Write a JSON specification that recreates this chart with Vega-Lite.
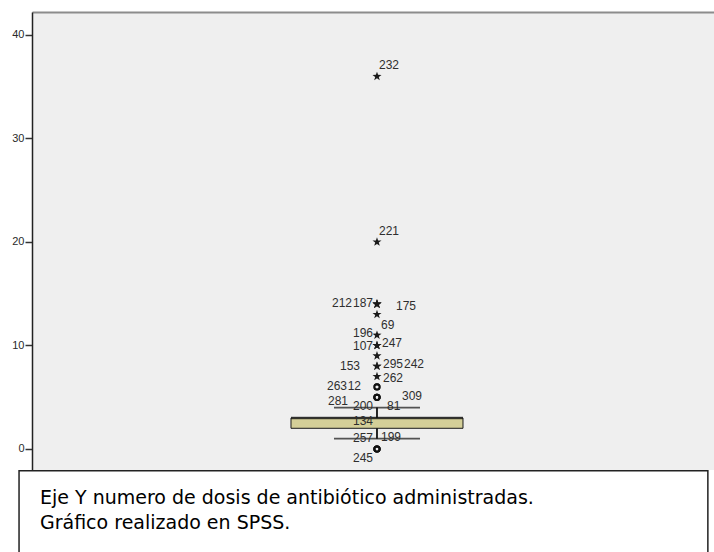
{
  "$schema": "https://vega.github.io/schema/vega-lite/v6.json",
  "autosize": "none",
  "width": 682,
  "height": 458,
  "padding": {"left": 32, "top": 12, "right": 0, "bottom": 82},
  "background": "white",
  "config": {
    "font": "Liberation Sans",
    "view": {"fill": "#efefef", "stroke": null}
  },
  "datasets": {
    "resumen": [
      {"grupo": "dosis", "minimo": 1, "q1": 2, "mediana": 3, "q3": 3, "maximo": 4}
    ],
    "atipicos": [
      {"grupo": "dosis", "caso": 232, "valor": 36, "tipo": "extremo"},
      {"grupo": "dosis", "caso": 221, "valor": 20, "tipo": "extremo"},
      {"grupo": "dosis", "caso": 212, "valor": 14, "tipo": "extremo"},
      {"grupo": "dosis", "caso": 187, "valor": 14, "tipo": "extremo"},
      {"grupo": "dosis", "caso": 175, "valor": 14, "tipo": "extremo"},
      {"grupo": "dosis", "caso": 69, "valor": 13, "tipo": "extremo"},
      {"grupo": "dosis", "caso": 196, "valor": 11, "tipo": "extremo"},
      {"grupo": "dosis", "caso": 107, "valor": 10, "tipo": "extremo"},
      {"grupo": "dosis", "caso": 247, "valor": 10, "tipo": "extremo"},
      {"grupo": "dosis", "caso": 295, "valor": 9, "tipo": "extremo"},
      {"grupo": "dosis", "caso": 242, "valor": 8, "tipo": "extremo"},
      {"grupo": "dosis", "caso": 153, "valor": 8, "tipo": "extremo"},
      {"grupo": "dosis", "caso": 262, "valor": 7, "tipo": "extremo"},
      {"grupo": "dosis", "caso": 263, "valor": 6, "tipo": "atipico"},
      {"grupo": "dosis", "caso": 12, "valor": 6, "tipo": "atipico"},
      {"grupo": "dosis", "caso": 309, "valor": 5, "tipo": "atipico"},
      {"grupo": "dosis", "caso": 281, "valor": 5, "tipo": "atipico"},
      {"grupo": "dosis", "caso": 200, "valor": 5, "tipo": "atipico"},
      {"grupo": "dosis", "caso": 81, "valor": 5, "tipo": "atipico"},
      {"grupo": "dosis", "caso": 134, "valor": 0, "tipo": "atipico"},
      {"grupo": "dosis", "caso": 257, "valor": 0, "tipo": "atipico"},
      {"grupo": "dosis", "caso": 199, "valor": 0, "tipo": "atipico"},
      {"grupo": "dosis", "caso": 245, "valor": 0, "tipo": "atipico"}
    ],
    "nota": [
      {"texto": ["Eje Y numero de dosis de antibiótico administradas.", "Gráfico realizado en SPSS."]}
    ]
  },
  "layer": [
    {
      "encoding": {
        "x": {
          "field": "grupo",
          "type": "nominal",
          "scale": {"type": "band", "paddingInner": 0, "paddingOuter": 0.5, "align": 0.5117},
          "axis": {"orient": "top", "labels": false, "ticks": false, "title": null, "domainColor": "#8c8c8c", "domainWidth": 2}
        }
      },
      "layer": [
        {
          "data": {"name": "resumen"},
          "layer": [
            {
              "mark": {"type": "bar", "fill": "#d4cf98", "stroke": "#1a1a1a", "strokeWidth": 1, "width": 172},
              "encoding": {
                "y": {
                  "field": "q1",
                  "type": "quantitative",
                  "scale": {"domain": [-2.03, 42.22], "nice": false, "zero": false},
                  "axis": {
                    "values": [0, 10, 20, 30, 40],
                    "title": null,
                    "grid": false,
                    "tickSize": 7,
                    "tickWidth": 1.5,
                    "tickColor": "#333333",
                    "domainColor": "#222222",
                    "domainWidth": 1.5,
                    "labelFontSize": 11,
                    "labelColor": "#2a2a2a",
                    "labelPadding": 1
                  }
                },
                "y2": {"field": "q3"}
              }
            },
            {
              "mark": {"type": "tick", "color": "#111111", "size": 172, "thickness": 2.5},
              "encoding": {"y": {"field": "mediana", "type": "quantitative"}}
            },
            {
              "mark": {"type": "rule", "color": "#111111", "strokeWidth": 1.8},
              "encoding": {"y": {"field": "q3", "type": "quantitative"}, "y2": {"field": "maximo"}}
            },
            {
              "mark": {"type": "rule", "color": "#111111", "strokeWidth": 1.8},
              "encoding": {"y": {"field": "minimo", "type": "quantitative"}, "y2": {"field": "q1"}}
            },
            {
              "mark": {"type": "tick", "color": "#111111", "size": 86, "thickness": 1.8},
              "encoding": {"y": {"field": "maximo", "type": "quantitative"}}
            },
            {
              "mark": {"type": "tick", "color": "#111111", "size": 86, "thickness": 1.8},
              "encoding": {"y": {"field": "minimo", "type": "quantitative"}}
            }
          ]
        },
        {
          "data": {"name": "atipicos"},
          "encoding": {"y": {"field": "valor", "type": "quantitative"}},
          "layer": [
            {
              "transform": [{"filter": "datum.tipo == 'atipico'"}],
              "mark": {"type": "point", "shape": "circle", "filled": false, "stroke": "#111111", "strokeWidth": 1.8, "size": 28, "opacity": 1}
            },
            {
              "transform": [{"filter": "datum.tipo == 'extremo'"}],
              "mark": {
                "type": "point",
                "shape": "M0,-1L0.235,-0.324L0.951,-0.309L0.38,0.124L0.588,0.809L0,0.4L-0.588,0.809L-0.38,0.124L-0.951,-0.309L-0.235,-0.324Z",
                "filled": true,
                "fill": "#1a1a1a",
                "strokeWidth": 0,
                "size": 90,
                "opacity": 1
              }
            },
            {
              "transform": [{"filter": {"field": "caso", "oneOf": [232, 221]}}],
              "mark": {"type": "text", "align": "left", "baseline": "middle", "dx": 2, "dy": -11, "fontSize": 12, "color": "#2e2e2e"},
              "encoding": {"text": {"field": "caso", "type": "nominal"}}
            },
            {
              "transform": [{"filter": {"field": "caso", "oneOf": [175]}}],
              "mark": {"type": "text", "align": "left", "baseline": "middle", "dx": 19, "dy": 2, "fontSize": 12, "color": "#2e2e2e"},
              "encoding": {"text": {"field": "caso", "type": "nominal"}}
            },
            {
              "transform": [{"filter": {"field": "caso", "oneOf": [69]}}],
              "mark": {"type": "text", "align": "left", "baseline": "middle", "dx": 4, "dy": 10.5, "fontSize": 12, "color": "#2e2e2e"},
              "encoding": {"text": {"field": "caso", "type": "nominal"}}
            },
            {
              "transform": [{"filter": {"field": "caso", "oneOf": [247]}}],
              "mark": {"type": "text", "align": "left", "baseline": "middle", "dx": 5, "dy": -2, "fontSize": 12, "color": "#2e2e2e"},
              "encoding": {"text": {"field": "caso", "type": "nominal"}}
            },
            {
              "transform": [{"filter": {"field": "caso", "oneOf": [295]}}],
              "mark": {"type": "text", "align": "left", "baseline": "middle", "dx": 6, "dy": 8, "fontSize": 12, "color": "#2e2e2e"},
              "encoding": {"text": {"field": "caso", "type": "nominal"}}
            },
            {
              "transform": [{"filter": {"field": "caso", "oneOf": [242]}}],
              "mark": {"type": "text", "align": "left", "baseline": "middle", "dx": 27, "dy": -2, "fontSize": 12, "color": "#2e2e2e"},
              "encoding": {"text": {"field": "caso", "type": "nominal"}}
            },
            {
              "transform": [{"filter": {"field": "caso", "oneOf": [262]}}],
              "mark": {"type": "text", "align": "left", "baseline": "middle", "dx": 6, "dy": 1, "fontSize": 12, "color": "#2e2e2e"},
              "encoding": {"text": {"field": "caso", "type": "nominal"}}
            },
            {
              "transform": [{"filter": {"field": "caso", "oneOf": [309]}}],
              "mark": {"type": "text", "align": "left", "baseline": "middle", "dx": 25, "dy": -1.5, "fontSize": 12, "color": "#2e2e2e"},
              "encoding": {"text": {"field": "caso", "type": "nominal"}}
            },
            {
              "transform": [{"filter": {"field": "caso", "oneOf": [81]}}],
              "mark": {"type": "text", "align": "left", "baseline": "middle", "dx": 10, "dy": 8.5, "fontSize": 12, "color": "#2e2e2e"},
              "encoding": {"text": {"field": "caso", "type": "nominal"}}
            },
            {
              "transform": [{"filter": {"field": "caso", "oneOf": [199]}}],
              "mark": {"type": "text", "align": "left", "baseline": "middle", "dx": 4, "dy": -12, "fontSize": 12, "color": "#2e2e2e"},
              "encoding": {"text": {"field": "caso", "type": "nominal"}}
            },
            {
              "transform": [{"filter": {"field": "caso", "oneOf": [187]}}],
              "mark": {"type": "text", "align": "right", "baseline": "middle", "dx": -4, "dy": -1, "fontSize": 12, "color": "#2e2e2e"},
              "encoding": {"text": {"field": "caso", "type": "nominal"}}
            },
            {
              "transform": [{"filter": {"field": "caso", "oneOf": [196]}}],
              "mark": {"type": "text", "align": "right", "baseline": "middle", "dx": -4, "dy": -2.5, "fontSize": 12, "color": "#2e2e2e"},
              "encoding": {"text": {"field": "caso", "type": "nominal"}}
            },
            {
              "transform": [{"filter": {"field": "caso", "oneOf": [107]}}],
              "mark": {"type": "text", "align": "right", "baseline": "middle", "dx": -4, "dy": 1, "fontSize": 12, "color": "#2e2e2e"},
              "encoding": {"text": {"field": "caso", "type": "nominal"}}
            },
            {
              "transform": [{"filter": {"field": "caso", "oneOf": [212]}}],
              "mark": {"type": "text", "align": "right", "baseline": "middle", "dx": -25, "dy": -1, "fontSize": 12, "color": "#2e2e2e"},
              "encoding": {"text": {"field": "caso", "type": "nominal"}}
            },
            {
              "transform": [{"filter": {"field": "caso", "oneOf": [153]}}],
              "mark": {"type": "text", "align": "right", "baseline": "middle", "dx": -17, "dy": 0, "fontSize": 12, "color": "#2e2e2e"},
              "encoding": {"text": {"field": "caso", "type": "nominal"}}
            },
            {
              "transform": [{"filter": {"field": "caso", "oneOf": [12]}}],
              "mark": {"type": "text", "align": "right", "baseline": "middle", "dx": -16, "dy": -1, "fontSize": 12, "color": "#2e2e2e"},
              "encoding": {"text": {"field": "caso", "type": "nominal"}}
            },
            {
              "transform": [{"filter": {"field": "caso", "oneOf": [263]}}],
              "mark": {"type": "text", "align": "right", "baseline": "middle", "dx": -30, "dy": -1, "fontSize": 12, "color": "#2e2e2e"},
              "encoding": {"text": {"field": "caso", "type": "nominal"}}
            },
            {
              "transform": [{"filter": {"field": "caso", "oneOf": [281]}}],
              "mark": {"type": "text", "align": "right", "baseline": "middle", "dx": -29, "dy": 3.5, "fontSize": 12, "color": "#2e2e2e"},
              "encoding": {"text": {"field": "caso", "type": "nominal"}}
            },
            {
              "transform": [{"filter": {"field": "caso", "oneOf": [200]}}],
              "mark": {"type": "text", "align": "right", "baseline": "middle", "dx": -4, "dy": 8.5, "fontSize": 12, "color": "#2e2e2e"},
              "encoding": {"text": {"field": "caso", "type": "nominal"}}
            },
            {
              "transform": [{"filter": {"field": "caso", "oneOf": [134]}}],
              "mark": {"type": "text", "align": "right", "baseline": "middle", "dx": -4, "dy": -28, "fontSize": 12, "color": "#2e2e2e"},
              "encoding": {"text": {"field": "caso", "type": "nominal"}}
            },
            {
              "transform": [{"filter": {"field": "caso", "oneOf": [257]}}],
              "mark": {"type": "text", "align": "right", "baseline": "middle", "dx": -4, "dy": -11, "fontSize": 12, "color": "#2e2e2e"},
              "encoding": {"text": {"field": "caso", "type": "nominal"}}
            },
            {
              "transform": [{"filter": {"field": "caso", "oneOf": [245]}}],
              "mark": {"type": "text", "align": "right", "baseline": "middle", "dx": -4, "dy": 9, "fontSize": 12, "color": "#2e2e2e"},
              "encoding": {"text": {"field": "caso", "type": "nominal"}}
            }
          ]
        }
      ]
    },
    {
      "data": {"name": "nota"},
      "layer": [
        {
          "mark": {"type": "rect", "fill": "white", "stroke": "#222222", "strokeWidth": 1.5},
          "encoding": {
            "x": {"datum": -0.019, "type": "quantitative", "scale": {"domain": [0, 1]}, "axis": null},
            "x2": {"datum": 0.991},
            "y": {"datum": -2.1, "type": "quantitative"},
            "y2": {"datum": -12}
          }
        },
        {
          "mark": {"type": "text", "align": "left", "baseline": "alphabetic", "fontSize": 19, "lineHeight": 25, "font": "DejaVu Sans", "color": "#000000"},
          "encoding": {
            "x": {"datum": 0.0117, "type": "quantitative", "scale": {"domain": [0, 1]}, "axis": null},
            "y": {"datum": -5.28, "type": "quantitative"},
            "text": {"field": "texto"}
          }
        }
      ]
    }
  ],
  "resolve": {"scale": {"x": "independent"}, "axis": {"x": "independent"}}
}
